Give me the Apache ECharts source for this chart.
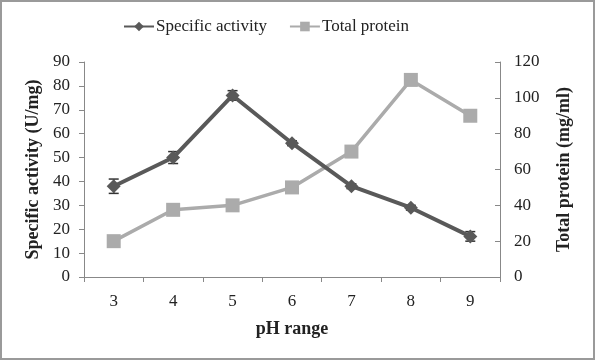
<!DOCTYPE html>
<html><head><meta charset="utf-8">
<script src="https://cdn.jsdelivr.net/npm/echarts@6/dist/echarts.min.js"></script>
<style>html,body{margin:0;padding:0;background:#fff}#c{width:595px;height:360px;box-sizing:border-box;border:2px solid #9a9a9a}</style>
</head><body><div id="c"></div>
<script>
const categories = ['3','4','5','6','7','8','9'];
const specificActivity = [38, 50, 76, 56, 38, 29, 17];
const specificActivityErr = [3, 2.5, 2, 1, 1, 1, 2];
const totalProtein = [20, 37.5, 40, 50, 70, 110, 90];
const totalProteinErr = [2, 1, 1, 1, 1, 1, 1];
const leftTicks = [0,10,20,30,40,50,60,70,80,90];
const rightTicks = [0,20,40,60,80,100,120];

const chart = echarts.init(document.getElementById('c'));
const font = 'Liberation Serif';
const dark = '#595959', light = '#ababab';

function errSeries(vals, errs, yIdx, color) {
  return {
    type: 'custom', yAxisIndex: yIdx, silent: true, z: 1,
    data: vals.map((v, i) => [i, v - errs[i], v + errs[i]]),
    renderItem: function (params, api) {
      const lo = api.coord([api.value(0), api.value(1)]);
      const hi = api.coord([api.value(0), api.value(2)]);
      const w = 5;
      const st = { stroke: color, lineWidth: 1.5 };
      return { type: 'group', children: [
        { type: 'line', shape: { x1: lo[0], y1: lo[1], x2: hi[0], y2: hi[1] }, style: st },
        { type: 'line', shape: { x1: lo[0]-w, y1: lo[1], x2: lo[0]+w, y2: lo[1] }, style: st },
        { type: 'line', shape: { x1: hi[0]-w, y1: hi[1], x2: hi[0]+w, y2: hi[1] }, style: st }
      ]};
    }
  };
}

const axisLabel = { fontFamily: font, fontSize: 17, color: '#222' };
chart.setOption({
  animation: false,
  textStyle: { fontFamily: font },
  legend: {
    top: 11, left: 116, itemGap: 22, itemWidth: 30, itemHeight: 12,
    textStyle: { fontFamily: font, fontSize: 17, color: '#222', padding: [0, 0, 0, -3] },
    data: ['Specific activity', 'Total protein']
  },
  grid: { left: 82, right: 93, top: 60, bottom: 81 },
  xAxis: {
    type: 'category', data: categories, boundaryGap: true,
    name: 'pH range', nameLocation: 'middle', nameGap: 43,
    nameTextStyle: { fontFamily: font, fontSize: 18, fontWeight: 'bold', color: '#222' },
    axisLine: { lineStyle: { color: '#888' } },
    axisTick: { show: true, length: 5, lineStyle: { color: '#888' } },
    axisLabel: Object.assign({ margin: 16 }, axisLabel)
  },
  yAxis: [{
    type: 'value', min: 0, max: 90, interval: 10,
    name: 'Specific activity (U/mg)', nameLocation: 'middle', nameGap: 42, nameRotate: 90,
    nameTextStyle: { fontFamily: font, fontSize: 18, fontWeight: 'bold', color: '#222' },
    axisLine: { show: true, lineStyle: { color: '#888' } },
    axisTick: { show: true, length: 5, lineStyle: { color: '#888' } },
    splitLine: { show: false },
    axisLabel: Object.assign({ margin: 14 }, axisLabel)
  }, {
    type: 'value', min: 0, max: 120, interval: 20,
    name: 'Total protein (mg/ml)', nameLocation: 'middle', nameGap: 55, nameRotate: 90,
    nameTextStyle: { fontFamily: font, fontSize: 18, fontWeight: 'bold', color: '#222' },
    axisLine: { show: true, lineStyle: { color: '#888' } },
    axisTick: { show: true, length: 5, inside: true, lineStyle: { color: '#888' } },
    splitLine: { show: false },
    axisLabel: Object.assign({ margin: 14 }, axisLabel)
  }],
  series: [
    errSeries(totalProtein, totalProteinErr, 1, '#777'),
    {
      name: 'Total protein', type: 'line', yAxisIndex: 1, data: totalProtein,
      symbol: 'rect', symbolSize: 14, z: 2,
      lineStyle: { color: light, width: 3.5 }, itemStyle: { color: light }
    },
    errSeries(specificActivity, specificActivityErr, 0, '#333'),
    {
      name: 'Specific activity', type: 'line', yAxisIndex: 0, data: specificActivity,
      symbol: 'diamond', symbolSize: 14, z: 3,
      lineStyle: { color: dark, width: 4 }, itemStyle: { color: dark }
    }
  ]
});
</script></body></html>
